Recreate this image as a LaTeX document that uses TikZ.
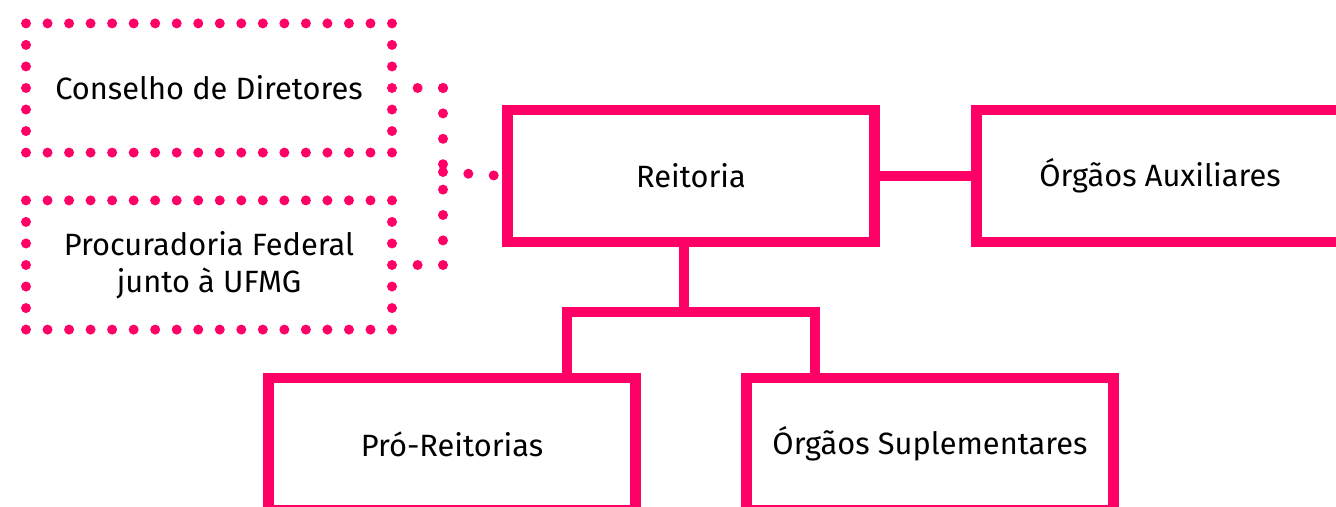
\documentclass[tikz,border=0pt]{standalone}
\usepackage{fontspec}
\setmainfont{Fira Sans}
\definecolor{ufmgpink}{RGB}{255,0,102}
\begin{document}
\begin{tikzpicture}[x=0.5pt, y=-0.5pt,
  every node/.style={font=\fontsize{15.4pt}{18.5pt}\selectfont, align=center},
  unit/.style={draw=ufmgpink, line width=5.25pt, minimum width=183.5pt, minimum height=66pt, inner sep=0pt},
  advisor/.style={draw=ufmgpink, line width=5pt, line cap=round, dash pattern=on 0pt off 10.765pt, minimum width=183pt, minimum height=64.6pt, inner sep=0pt},
  dotline/.style={draw=ufmgpink, line width=5pt, line cap=round, dash pattern=on 0pt off 12.7pt},
  link/.style={draw=ufmgpink, line width=5.25pt}]
\useasboundingbox (0,0) rectangle (1336,507);
\node[advisor] (cons) at (209,88) {Conselho de Diretores};
\node[advisor] (proc) at (209,265) {Procuradoria Federal\\junto à UFMG};
\node[unit] (reit) at (691,176) {Reitoria};
\node[unit] (aux) at (1160,176) {Órgãos Auxiliares};
\node[unit] (pro) at (452,444) {Pró-Reitorias};
\node[unit] (sup) at (930,444) {Órgãos Suplementares};
\coordinate (dtop) at (443,88);
\coordinate (dbot) at (443,265);
\coordinate (dmid) at (443,172);
\draw[dotline] (dtop) -- (cons.east);
\draw[dotline] (dtop) -- (dbot);
\draw[dotline] (dbot) -- (proc.east);
\draw[dotline, shorten >=4pt] (dmid) -- (reit.west);
\draw[link] (reit.east) -- (aux.west);
\coordinate (junc) at (684,312);
\coordinate (barL) at (567,312);
\coordinate (barR) at (815,312);
\draw[link] (reit.south -| junc) -- (junc);
\draw[link] (barL |- pro.north) -- (barL) -- (barR) -- (barR |- sup.north);
\end{tikzpicture}
\end{document}
